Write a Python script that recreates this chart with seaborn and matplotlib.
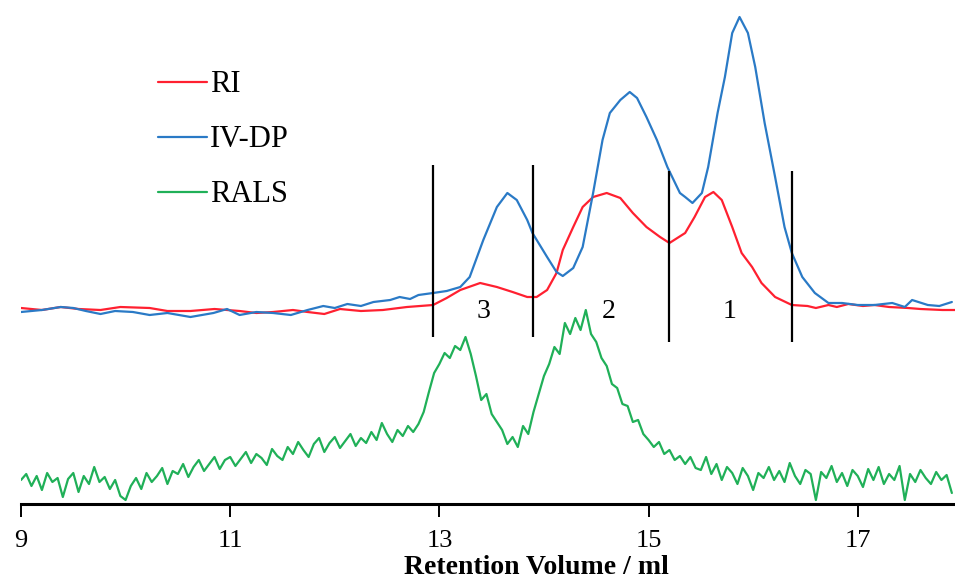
import matplotlib
matplotlib.use('Agg')
import matplotlib.pyplot as plt
import seaborn as sns
import pandas as pd

# retention volume (ml) and signal (arbitrary units)
ri_x = [9.00, 9.20, 9.38, 9.55, 9.76, 9.95, 10.23, 10.40, 10.62, 10.85, 11.09, 11.25, 11.41,
        11.60, 11.74, 11.90, 12.05, 12.25, 12.46, 12.69, 12.94,
        13.07, 13.20, 13.39, 13.55, 13.70, 13.84, 13.93, 14.03, 14.12, 14.18, 14.28, 14.37,
        14.47, 14.60, 14.73, 14.85, 14.98, 15.11, 15.20, 15.35, 15.44, 15.54, 15.62, 15.70,
        15.80, 15.89, 15.99, 16.08, 16.21, 16.37, 16.52, 16.60, 16.72, 16.80, 16.91, 17.05,
        17.16, 17.30, 17.48, 17.60, 17.81, 17.93]
ri_y = [196, 194, 197, 195, 194, 197, 196, 193, 193, 195, 193, 191, 192,
        194, 192, 190, 195, 193, 194, 197, 199,
        206, 214, 221, 217, 212, 207, 207, 214, 231, 254, 277, 297,
        307, 311, 306, 291, 277, 267, 261, 271, 287, 307, 312, 304,
        277, 251, 237, 221, 207, 199, 198, 196, 199, 197, 200, 198,
        199, 197, 196, 195, 194, 194]

ivdp_x = [9.00, 9.20, 9.38, 9.50, 9.62, 9.76, 9.90, 10.07, 10.23, 10.40, 10.62, 10.84, 10.97,
          11.09, 11.25, 11.41, 11.58, 11.74, 11.89, 12.00, 12.12, 12.25, 12.37, 12.53, 12.62,
          12.72, 12.80, 12.94, 13.07, 13.20, 13.29, 13.42, 13.55,
          13.65, 13.74, 13.84, 13.89, 14.03, 14.12, 14.18, 14.28, 14.37, 14.47, 14.56, 14.63,
          14.73, 14.82, 14.89, 14.98, 15.08, 15.18, 15.30, 15.35, 15.42, 15.51, 15.57, 15.66,
          15.73, 15.80, 15.87, 15.95, 16.02, 16.11, 16.21, 16.30, 16.37, 16.47, 16.59, 16.72,
          16.85, 17.00, 17.16, 17.33, 17.45, 17.52, 17.67, 17.78, 17.90]
ivdp_y = [192, 194, 197, 196, 193, 190, 193, 192, 189, 191, 187, 191, 195,
          189, 192, 191, 189, 194, 198, 196, 200, 198, 202, 204, 207,
          205, 209, 211, 213, 217, 227, 264, 297,
          311, 304, 284, 271, 247, 232, 228, 236, 257, 311, 364, 391,
          404, 412, 406, 387, 364, 337, 311, 307, 301, 311, 337, 391,
          427, 471, 487, 471, 437, 381, 327, 277, 251, 227, 211, 201,
          201, 199, 199, 201, 197, 204, 199, 198, 202]

rals_x = [9.00, 9.05, 9.10, 9.15, 9.20, 9.25, 9.30, 9.35, 9.40, 9.45,
          9.50, 9.55, 9.60, 9.65, 9.70, 9.75, 9.80, 9.85, 9.90, 9.95,
          10.00, 10.05, 10.10, 10.15, 10.20, 10.25, 10.30, 10.35, 10.40, 10.45,
          10.50, 10.55, 10.60, 10.65, 10.70, 10.75, 10.80, 10.85, 10.90, 10.95,
          11.00, 11.05, 11.10, 11.15, 11.20, 11.25, 11.30, 11.35, 11.40, 11.45,
          11.50, 11.55, 11.60, 11.65, 11.70, 11.75, 11.80, 11.85, 11.90, 11.95,
          12.00, 12.05, 12.10, 12.15, 12.20, 12.25, 12.30, 12.35, 12.40, 12.45,
          12.50, 12.55, 12.60, 12.65, 12.70, 12.75, 12.80, 12.85, 12.90, 12.95,
          13.00, 13.05, 13.10, 13.15, 13.20, 13.25, 13.30, 13.35, 13.40, 13.45,
          13.50, 13.55, 13.60, 13.65, 13.70, 13.75, 13.80, 13.85, 13.90, 13.95,
          14.00, 14.05, 14.10, 14.15, 14.20, 14.25, 14.30, 14.35, 14.40, 14.45,
          14.50, 14.55, 14.60, 14.65, 14.70, 14.75, 14.80, 14.85, 14.90, 14.95,
          15.00, 15.05, 15.10, 15.15, 15.20, 15.25, 15.30, 15.35, 15.40, 15.45,
          15.50, 15.55, 15.60, 15.65, 15.70, 15.75, 15.80, 15.85, 15.90, 15.95,
          16.00, 16.05, 16.10, 16.15, 16.20, 16.25, 16.30, 16.35, 16.40, 16.45,
          16.50, 16.55, 16.60, 16.65, 16.70, 16.75, 16.80, 16.85, 16.90, 16.95,
          17.00, 17.05, 17.10, 17.15, 17.20, 17.25, 17.30, 17.35, 17.40, 17.45,
          17.50, 17.55, 17.60, 17.65, 17.70, 17.75, 17.80, 17.85, 17.90]
rals_y = [24, 30, 18, 28, 14, 31, 22, 26, 7, 25, 31, 12, 28, 20, 37, 22, 27, 15, 24, 8,
          4, 18, 26, 15, 31, 22, 28, 36, 20, 33, 30, 40, 27, 37, 44, 33, 40, 47, 35, 44,
          47, 38, 45, 52, 41, 50, 46, 39, 55, 48, 44, 57, 50, 62, 54, 47, 60, 66, 52, 61,
          67, 56, 63, 70, 58, 66, 61, 72, 64, 81, 70, 62, 74, 68, 78, 72, 80, 92, 112, 131,
          140, 151, 146, 158, 154, 167, 150, 128, 104, 110, 90, 82, 74, 60, 67, 57, 78, 70, 92, 110,
          128, 140, 157, 150, 181, 170, 186, 174, 194, 170, 162, 146, 138, 120, 116, 100, 98, 82, 84, 70,
          64, 57, 62, 50, 54, 44, 48, 40, 47, 36, 34, 47, 30, 40, 24, 37, 31, 20, 36, 28,
          14, 31, 26, 37, 24, 33, 22, 41, 28, 20, 34, 30, 4, 32, 26, 38, 22, 31, 18, 34,
          28, 17, 35, 24, 37, 20, 30, 24, 38, 4, 30, 22, 34, 26, 20, 32, 24, 29, 11]

series = ['RI', 'IV-DP', 'RALS']
colours = ['#FF2030', '#2A7AC6', '#20B058']

# cut points between the fractions, and fraction numbers
cuts = [12.94, 13.90, 15.20, 16.37]
cut_lo = [167, 167, 162, 162]
cut_hi = [339, 339, 333, 333]
frac_x = [13.42, 14.62, 15.77]
frac_lbl = ['3', '2', '1']

frames = [
    pd.DataFrame({'vol': ri_x, 'sig': ri_y, 'trace': 'RI'}),
    pd.DataFrame({'vol': ivdp_x, 'sig': ivdp_y, 'trace': 'IV-DP'}),
    pd.DataFrame({'vol': rals_x, 'sig': rals_y, 'trace': 'RALS'}),
]
df = pd.concat(frames, ignore_index=True)

sns.set_style('ticks')
plt.rcParams['font.family'] = ['Liberation Serif', 'DejaVu Serif']
plt.rcParams['text.color'] = 'black'
plt.rcParams['axes.labelcolor'] = 'black'
plt.rcParams['xtick.color'] = 'black'
plt.rcParams['axes.edgecolor'] = 'black'

fig = plt.figure(figsize=(9.55, 5.81), dpi=100)
ax = fig.add_axes([21 / 955, 77 / 581, 934 / 955, 504 / 581])

sns.lineplot(data=df, x='vol', y='sig', hue='trace', hue_order=series,
             palette=colours, linewidth=1.6, sort=False, estimator=None, ax=ax)

ax.vlines(cuts, cut_lo, cut_hi, colors='black', linewidth=1.6)
for xx, lbl in zip(frac_x, frac_lbl):
    ax.text(xx, 192, lbl, ha='center', va='center', fontsize=20)

ax.set_xlim(9, 17.93)
ax.set_ylim(0, 504)
ax.set_xticks([9, 11, 13, 15, 17])
ax.set_yticks([])
ax.set_ylabel('')
ax.set_xlabel('Retention Volume / ml', fontsize=20, fontweight='bold')
ax.xaxis.set_label_coords(0.552, -0.101)
ax.tick_params(axis='x', direction='out', length=9, width=1.4, labelsize=19, pad=10)
sns.despine(ax=ax, left=True, top=True, right=True)
ax.spines['bottom'].set_linewidth(2.2)

leg = ax.legend(loc='upper left', bbox_to_anchor=(0.117, 0.915), frameon=False,
                fontsize=22, handlelength=1.6, handletextpad=0.1, labelspacing=0.85)
for h in leg.get_lines():
    h.set_linewidth(1.6)

fig.savefig('out.png', dpi=100)
